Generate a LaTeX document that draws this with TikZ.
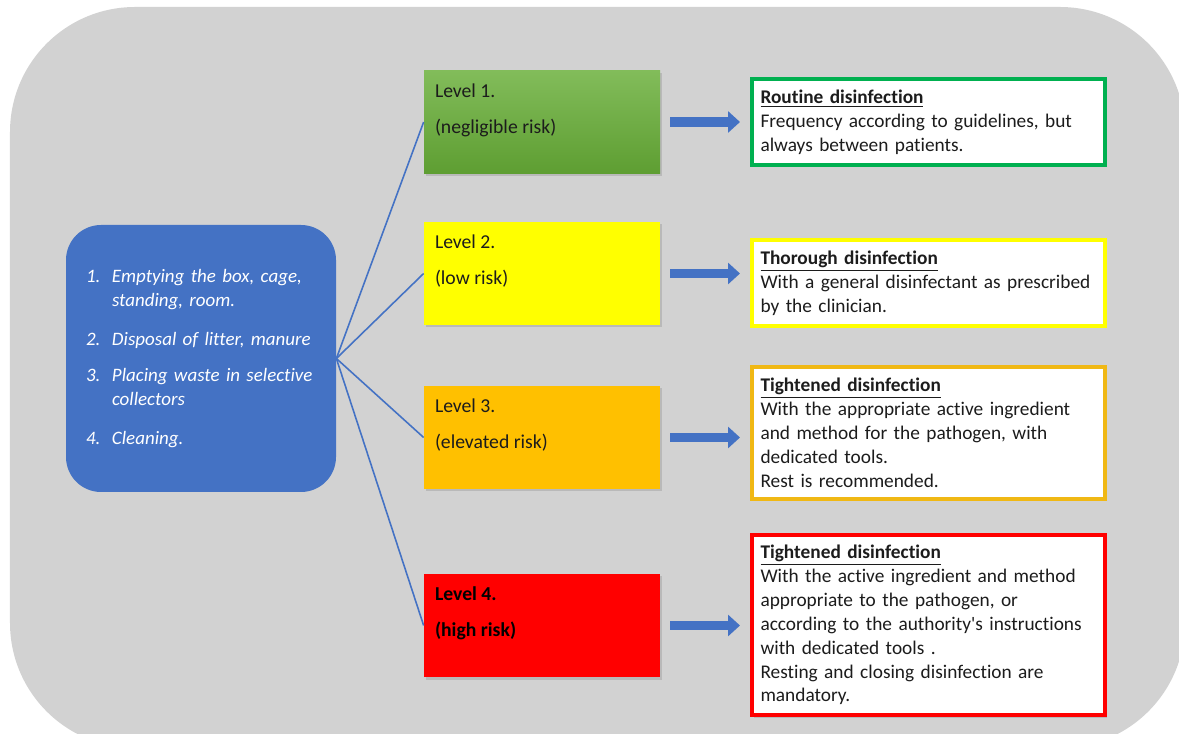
\documentclass[tikz,border=0pt]{standalone}
\usepackage{fontspec}
\setmainfont[Ligatures=NoCommon]{Carlito}
\definecolor{bgGray}{RGB}{210,210,210}
\definecolor{mblue}{RGB}{68,114,196}
\definecolor{lvGreenTop}{RGB}{130,188,90}
\definecolor{lvGreenBot}{RGB}{94,158,50}
\definecolor{lvYellow}{RGB}{255,255,0}
\definecolor{lvOrange}{RGB}{255,192,0}
\definecolor{lvRed}{RGB}{255,0,0}
\definecolor{okGreen}{RGB}{0,176,80}
\definecolor{edOrange}{RGB}{240,184,20}
\definecolor{txtDark}{RGB}{28,28,28}
\usetikzlibrary{arrows.meta,positioning,shadows,calc}

\begin{document}
\begin{tikzpicture}[
    lvlbox/.style={minimum width=4.72cm, minimum height=2.06cm, inner sep=0pt,
                drop shadow={opacity=0.3, shadow xshift=0.04cm, shadow yshift=-0.05cm}},
    lvltxt/.style={anchor=north west, inner sep=0pt, align=left,
                font=\fontsize{11.2}{13.7}\selectfont, text=txtDark},
    actbox/.style={draw, line width=0.08cm, fill=white, minimum width=7.06cm,
                text width=6.72cm, align=left, inner sep=0pt,
                font=\fontsize{11}{13.6}\selectfont, text=txtDark,
                drop shadow={opacity=0.3, shadow xshift=0.04cm, shadow yshift=-0.05cm}},
    link/.style={draw=mblue, line width=0.9pt},
    blk/.style={-{Triangle[width=0.42cm,length=0.24cm]}, line width=0.19cm, draw=mblue,
                shorten <=0.2cm, shorten >=0.2cm}
  ]
    \useasboundingbox (0,0) rectangle (23.58,14.66);

    % Background panel
    \fill[bgGray, rounded corners=2.5cm] (0.2,-0.3) rectangle (23.7,14.52);

    % Cleaning steps
    \node[fill=mblue, rounded corners=0.7cm, minimum width=5.4cm, minimum height=5.34cm,
          text width=4.6cm, align=left, text=white,
          font=\itshape\fontsize{10.8}{13.6}\selectfont] (src) at (4.02, 7.49)
      {\makebox[0.52cm][l]{1.}Emptying the box, cage,\\
       \hspace*{0.52cm}standing, room.\\[8.5pt]
       \makebox[0.52cm][l]{2.}Disposal of litter, manure\\[6.8pt]
       \makebox[0.52cm][l]{3.}Placing waste in selective\\
       \hspace*{0.52cm}collectors\\[8.5pt]
       \makebox[0.52cm][l]{4.}Cleaning.};

    % Risk levels
    \node[lvlbox, top color=lvGreenTop, bottom color=lvGreenBot] (lvl1) at (10.84, 12.22) {};
    \node[lvlbox, fill=lvYellow] (lvl2) at (10.84, 9.19) {};
    \node[lvlbox, fill=lvOrange] (lvl3) at (10.84, 5.91) {};
    \node[lvlbox, fill=lvRed]    (lvl4) at (10.84, 2.15) {};

    \node[lvltxt] (lvl1txt) at ([xshift=0.22cm, yshift=-0.26cm]lvl1.north west)
      {Level 1.\\[6.7pt](negligible risk)};
    \node[lvltxt] (lvl2txt) at ([xshift=0.22cm, yshift=-0.26cm]lvl2.north west)
      {Level 2.\\[6.7pt](low risk)};
    \node[lvltxt] (lvl3txt) at ([xshift=0.22cm, yshift=-0.26cm]lvl3.north west)
      {Level 3.\\[6.7pt](elevated risk)};
    \node[lvltxt, font=\bfseries\fontsize{11.2}{13.7}\selectfont, text=black] (lvl4txt)
      at ([xshift=0.22cm, yshift=-0.26cm]lvl4.north west)
      {Level 4.\\[6.7pt](high risk)};

    % Lines to the levels
    \foreach \i in {1,...,4}
      \draw[link] (src.east) -- (lvl\i.west);

    % Disinfection boxes
    \node[actbox, draw=okGreen, minimum height=1.72cm] (act1) at (18.57, 12.22)
      {\underline{\textbf{Routine disinfection}}\\
       Frequency according to guidelines, but\\
       always between patients.};
    \node[actbox, draw=lvYellow, minimum height=1.72cm] (act2) at (18.57, 9.0)
      {\underline{\textbf{Thorough disinfection}}\\
       With a general disinfectant as prescribed\\
       by the clinician.};
    \node[actbox, draw=edOrange, minimum height=2.64cm] (act3) at (18.57, 6.0)
      {\underline{\textbf{Tightened disinfection}}\\
       With the appropriate active ingredient\\
       and method for the pathogen, with\\
       dedicated tools.\\
       Rest is recommended.};
    \node[actbox, draw=lvRed, minimum height=3.6cm] (act4) at (18.57, 2.16)
      {\underline{\textbf{Tightened disinfection}}\\
       With the active ingredient and method\\
       appropriate to the pathogen, or\\
       according to the authority\textquotesingle s instructions\\
       with dedicated tools .\\
       Resting and closing disinfection are\\
       mandatory.};

    % Block arrows
    \foreach \i in {1,...,4}
      \draw[blk] (lvl\i.east) -- (lvl\i.east -| act\i.west);
  \end{tikzpicture}
\end{document}
